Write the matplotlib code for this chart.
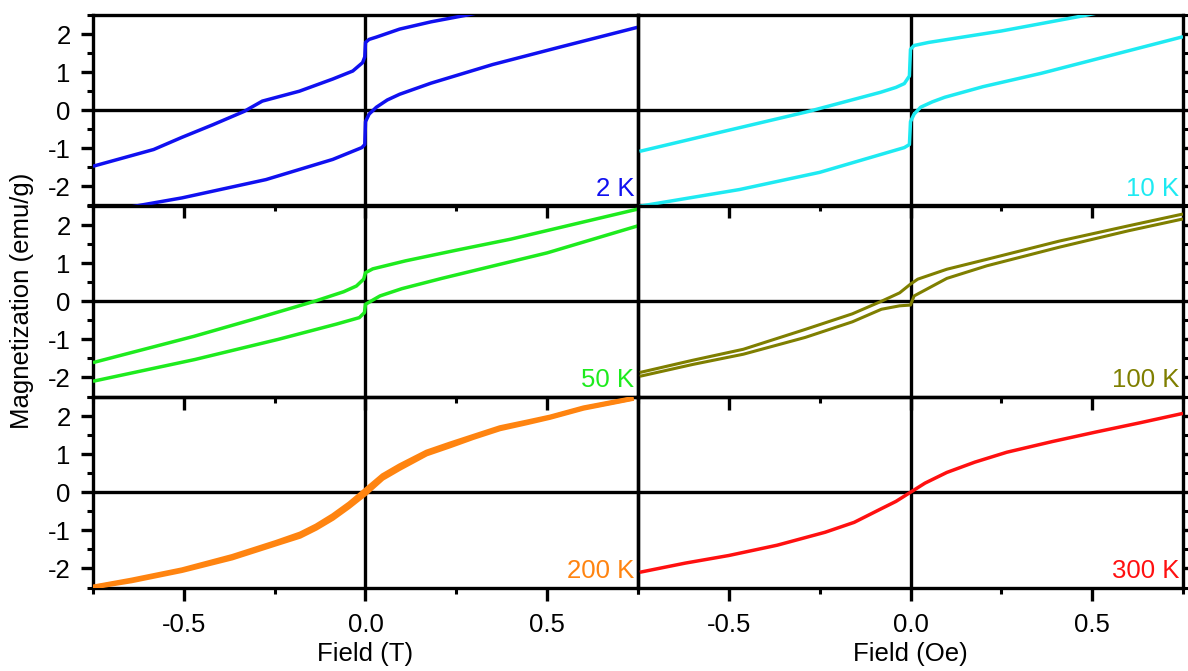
import matplotlib
matplotlib.use("Agg")
import matplotlib.pyplot as plt
from matplotlib.ticker import MultipleLocator, FormatStrFormatter

plt.rcParams['font.family'] = ['Liberation Sans', 'DejaVu Sans']
plt.rcParams['axes.unicode_minus'] = False

# ---------------- data (Field in T, Magnetization in emu/g) ----------------
labels = ["2 K", "10 K", "50 K", "100 K", "200 K", "300 K"]
colors = ["#1010F0", "#1EEAF2", "#1EEB1E", "#7F7F00", "#FF8410", "#FF1010"]

H_2K_dn = [-0.75, -0.583, -0.505, -0.42, -0.334, -0.284, -0.182, -0.09, -0.035, -0.008, -0.002, 0.0, 0.01, 0.03, 0.094, 0.18, 0.28, 0.5, 0.75]
M_2K_dn = [-1.47, -1.03, -0.71, -0.38, -0.03, 0.24, 0.5, 0.82, 1.03, 1.25, 1.4, 1.78, 1.86, 1.92, 2.13, 2.32, 2.5, 2.95, 3.4]
H_2K_up = [-0.75, -0.624, -0.505, -0.274, -0.09, -0.01, -0.002, 0.0, 0.01, 0.03, 0.06, 0.094, 0.18, 0.35, 0.536, 0.75]
M_2K_up = [-2.72, -2.5, -2.3, -1.82, -1.29, -0.98, -0.9, -0.3, -0.1, 0.08, 0.27, 0.42, 0.71, 1.2, 1.66, 2.18]

H_10K_dn = [-0.746, -0.525, -0.28, -0.083, -0.04, -0.017, -0.003, 0.0, 0.01, 0.05, 0.25, 0.47, 0.75]
M_10K_dn = [-1.08, -0.58, -0.03, 0.47, 0.6, 0.7, 0.9, 1.6, 1.7, 1.78, 2.08, 2.47, 3.0]
H_10K_up = [-0.746, -0.47, -0.25, -0.017, -0.003, 0.0, 0.01, 0.028, 0.06, 0.094, 0.2, 0.36, 0.75]
M_10K_up = [-2.52, -2.08, -1.63, -0.98, -0.9, -0.3, -0.1, 0.08, 0.22, 0.34, 0.62, 0.97, 1.93]

H_50K_dn = [-0.75, -0.472, -0.3, -0.14, -0.06, -0.025, -0.005, 0.0, 0.02, 0.11, 0.25, 0.40, 0.75]
M_50K_dn = [-1.61, -0.92, -0.45, 0.0, 0.25, 0.4, 0.58, 0.75, 0.85, 1.06, 1.34, 1.63, 2.42]
H_50K_up = [-0.75, -0.47, -0.24, -0.08, -0.017, -0.003, 0.0, 0.04, 0.1, 0.21, 0.5, 0.75]
M_50K_up = [-2.1, -1.53, -1.0, -0.6, -0.43, -0.3, -0.08, 0.14, 0.33, 0.6, 1.27, 1.98]

H_100K_dn = [-0.745, -0.6, -0.46, -0.29, -0.16, -0.08, -0.03, 0.0, 0.02, 0.1, 0.21, 0.41, 0.6, 0.75]
M_100K_dn = [-1.87, -1.55, -1.26, -0.74, -0.33, 0.0, 0.22, 0.45, 0.58, 0.84, 1.1, 1.58, 1.98, 2.29]
H_100K_up = [-0.745, -0.6, -0.46, -0.29, -0.16, -0.08, -0.03, 0.0, 0.01, 0.1, 0.21, 0.41, 0.6, 0.75]
M_100K_up = [-1.97, -1.66, -1.39, -0.95, -0.54, -0.21, -0.12, -0.1, 0.14, 0.6, 0.93, 1.42, 1.85, 2.16]

H_200K = [-0.754, -0.644, -0.505, -0.367, -0.246, -0.18, -0.136, -0.09, -0.045, 0.0, 0.047, 0.094, 0.168, 0.232, 0.296, 0.37, 0.445, 0.508, 0.6, 0.738]
M_200K_dn = [-2.49, -2.30, -2.03, -1.68, -1.31, -1.09, -0.88, -0.61, -0.30, 0.06, 0.44, 0.70, 1.06, 1.27, 1.47, 1.70, 1.85, 1.98, 2.22, 2.47]
M_200K_up = [-2.50, -2.33, -2.06, -1.73, -1.36, -1.16, -0.95, -0.69, -0.38, -0.04, 0.36, 0.62, 1.00, 1.21, 1.43, 1.66, 1.82, 1.96, 2.20, 2.46]

H_300K = [-0.745, -0.62, -0.5, -0.367, -0.235, -0.155, -0.08, -0.04, 0.0, 0.04, 0.1, 0.177, 0.265, 0.39, 0.51, 0.63, 0.75]
M_300K = [-2.1, -1.86, -1.66, -1.39, -1.05, -0.79, -0.43, -0.24, 0.0, 0.24, 0.52, 0.79, 1.05, 1.33, 1.58, 1.82, 2.07]

series = [
    [(H_2K_dn, M_2K_dn), (H_2K_up, M_2K_up)],
    [(H_10K_dn, M_10K_dn), (H_10K_up, M_10K_up)],
    [(H_50K_dn, M_50K_dn), (H_50K_up, M_50K_up)],
    [(H_100K_dn, M_100K_dn), (H_100K_up, M_100K_up)],
    [(H_200K, M_200K_dn), (H_200K, M_200K_up)],
    [(H_300K, M_300K)],
]
widths = [2.5, 2.5, 2.5, 2.2, 3.3, 2.5]

# ---------------- layout ----------------
W, H = 1188, 671
fig = plt.figure(figsize=(W / 100, H / 100), dpi=100)
col_left = [93 / W, 638 / W]
ax_w = 545 / W
row_top = [15, 206, 397]
ax_h = 190.5 / H

FS = 18.5
for i in range(6):
    r, c = divmod(i, 2)
    bottom = 1 - (row_top[r] + 190.5) / H
    ax = fig.add_axes([col_left[c], bottom, ax_w, ax_h])
    ax.set_facecolor('none')
    ax.set_xlim(-0.75, 0.75)
    ax.set_ylim(-2.5, 2.5)
    for sp in ax.spines.values():
        sp.set_linewidth(2.4)
        sp.set_color('black')
    ax.axhline(0, color='black', lw=2.4, zorder=1)
    ax.axvline(0, color='black', lw=2.4, zorder=1)
    for (hx, my) in series[i]:
        ax.plot(hx, my, color=colors[i], lw=widths[i], solid_joinstyle='round',
                solid_capstyle='butt', zorder=3)
    ax.text(0.993, 0.05, labels[i], color=colors[i], fontsize=FS,
            ha='right', va='baseline', transform=ax.transAxes)

    ax.xaxis.set_major_locator(MultipleLocator(0.5))
    ax.xaxis.set_minor_locator(MultipleLocator(0.25))
    ax.yaxis.set_major_locator(MultipleLocator(1))
    ax.yaxis.set_minor_locator(MultipleLocator(0.5))
    ax.tick_params(which='major', direction='out', length=9, width=2.4, labelsize=FS)
    ax.tick_params(which='minor', direction='out', length=4.5, width=2.2)
    ax.tick_params(axis='x', which='major', pad=9)
    ax.tick_params(axis='y', which='major', pad=7)
    ax.tick_params(axis='x', top=False, labelbottom=(r == 2))
    if c == 0:
        ax.tick_params(axis='y', which='both', left=True, right=False, labelleft=True)
    else:
        ax.tick_params(axis='y', which='both', left=False, right=True, labelleft=False, labelright=False)
    ax.xaxis.set_major_formatter(FormatStrFormatter('%.1f'))
    if r == 2:
        ax.set_xlabel("Field (T)" if c == 0 else "Field (Oe)", fontsize=FS, labelpad=4)

fig.text(22 / W, 1 - 301 / H, "Magnetization (emu/g)", rotation=90, fontsize=FS,
         ha='center', va='center')

fig.savefig("out.png", dpi=100)
